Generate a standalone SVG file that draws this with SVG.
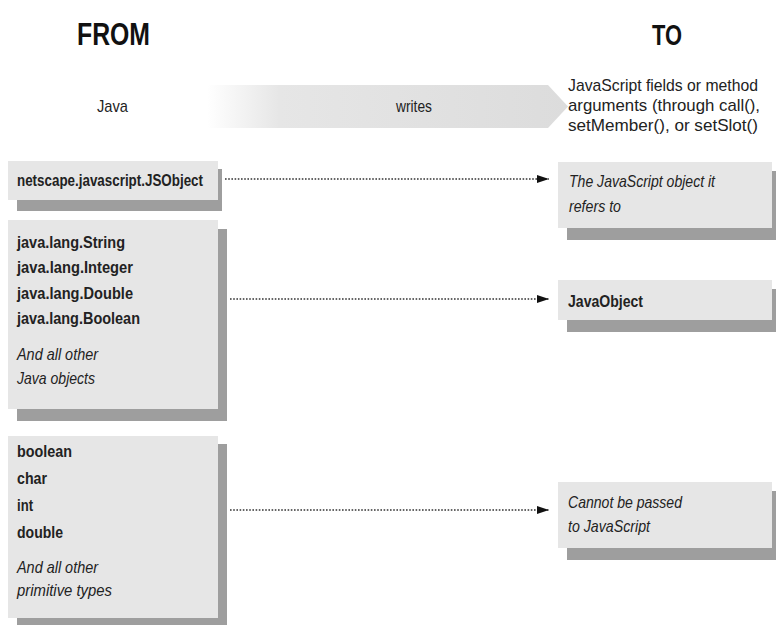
<svg xmlns="http://www.w3.org/2000/svg" width="776" height="625" viewBox="0 0 776 625">
  <defs>
    <style>
      .t{font-family:"Liberation Sans",Arial,sans-serif;font-size:17px;fill:#222}
      .b{font-weight:bold}
      .i{font-style:italic}
      .head{font-family:"Liberation Sans",Arial,sans-serif;font-weight:bold;fill:#111}
      .box{fill:#e6e6e6}
      .shadow{fill:#9e9e9e}
      .conn{stroke:#333;stroke-width:1.3;stroke-dasharray:1.6 1.6;fill:none}
    </style>
    <linearGradient id="flow" x1="207" y1="0" x2="568" y2="0" gradientUnits="userSpaceOnUse">
      <stop offset="0" stop-color="#ffffff"/>
      <stop offset="0.2" stop-color="#e6e6e6"/>
      <stop offset="1" stop-color="#dcdcdc"/>
    </linearGradient>
    <marker id="tip" viewBox="0 0 12 8" refX="12" refY="4" markerWidth="12" markerHeight="8" markerUnits="userSpaceOnUse" orient="auto">
      <path d="M0,0 L12,4 L0,8 Z" fill="#111"/>
    </marker>
  </defs>

  <rect width="776" height="625" fill="#ffffff"/>

  <!-- column headings -->
  <g id="headings">
    <text class="head" x="77" y="45" font-size="31" textLength="73" lengthAdjust="spacingAndGlyphs">FROM</text>
    <text class="head" x="652" y="45" font-size="29" textLength="30" lengthAdjust="spacingAndGlyphs">TO</text>
  </g>

  <!-- direction band: Java writes JavaScript -->
  <g id="direction">
    <polygon points="207,85 548,85 568,106.5 548,128 207,128" fill="url(#flow)"/>
    <text class="t" x="97" y="112" font-size="16" textLength="31" lengthAdjust="spacingAndGlyphs">Java</text>
    <text class="t" x="396" y="112" font-size="16" textLength="36" lengthAdjust="spacingAndGlyphs">writes</text>
  </g>

  <g id="target-caption">
    <text class="t" x="568" y="91" font-size="16" textLength="190" lengthAdjust="spacingAndGlyphs">JavaScript fields or method</text>
    <text class="t" x="568" y="111" font-size="16" textLength="192" lengthAdjust="spacingAndGlyphs">arguments (through call(),</text>
    <text class="t" x="568" y="131" font-size="16" textLength="190" lengthAdjust="spacingAndGlyphs">setMember(), or setSlot()</text>
  </g>

  <!-- source types -->
  <g id="src-jsobject">
    <rect class="shadow" x="17" y="169" width="205" height="42"/>
    <rect class="box" x="8" y="161" width="210" height="39"/>
    <text class="t b" x="17" y="186" textLength="186" lengthAdjust="spacingAndGlyphs">netscape.javascript.JSObject</text>
  </g>

  <g id="src-objects">
    <rect class="shadow" x="17" y="229" width="210" height="192"/>
    <rect class="box" x="8" y="220" width="210" height="189"/>
    <text class="t b" x="17" y="248" textLength="108" lengthAdjust="spacingAndGlyphs">java.lang.String</text>
    <text class="t b" x="17" y="273" textLength="116" lengthAdjust="spacingAndGlyphs">java.lang.Integer</text>
    <text class="t b" x="17" y="299" textLength="116" lengthAdjust="spacingAndGlyphs">java.lang.Double</text>
    <text class="t b" x="17" y="324" textLength="123" lengthAdjust="spacingAndGlyphs">java.lang.Boolean</text>
    <text class="t i" x="17" y="360" textLength="81" lengthAdjust="spacingAndGlyphs">And all other</text>
    <text class="t i" x="17" y="384" textLength="78" lengthAdjust="spacingAndGlyphs">Java objects</text>
  </g>

  <g id="src-primitives">
    <rect class="shadow" x="17" y="444" width="210" height="190"/>
    <rect class="box" x="8" y="436" width="210" height="182"/>
    <text class="t b" x="17" y="457" textLength="55" lengthAdjust="spacingAndGlyphs">boolean</text>
    <text class="t b" x="17" y="484" textLength="30" lengthAdjust="spacingAndGlyphs">char</text>
    <text class="t b" x="17" y="511" textLength="16" lengthAdjust="spacingAndGlyphs">int</text>
    <text class="t b" x="17" y="538" textLength="46" lengthAdjust="spacingAndGlyphs">double</text>
    <text class="t i" x="17" y="573" textLength="81" lengthAdjust="spacingAndGlyphs">And all other</text>
    <text class="t i" x="17" y="596" textLength="95" lengthAdjust="spacingAndGlyphs">primitive types</text>
  </g>

  <!-- JavaScript results -->
  <g id="dst-object">
    <rect class="shadow" x="567" y="171" width="210" height="69"/>
    <rect class="box" x="558" y="162" width="214" height="66"/>
    <text class="t i" x="569" y="187" textLength="146" lengthAdjust="spacingAndGlyphs">The JavaScript object it</text>
    <text class="t i" x="569" y="212" textLength="52" lengthAdjust="spacingAndGlyphs">refers to</text>
  </g>

  <g id="dst-javaobject">
    <rect class="shadow" x="567" y="289" width="210" height="43"/>
    <rect class="box" x="558" y="280" width="214" height="40"/>
    <text class="t b" x="568" y="307" textLength="75" lengthAdjust="spacingAndGlyphs">JavaObject</text>
  </g>

  <g id="dst-none">
    <rect class="shadow" x="567" y="491" width="210" height="69"/>
    <rect class="box" x="558" y="482" width="214" height="66"/>
    <text class="t i" x="568" y="508" textLength="114" lengthAdjust="spacingAndGlyphs">Cannot be passed</text>
    <text class="t i" x="568" y="532" textLength="82" lengthAdjust="spacingAndGlyphs">to JavaScript</text>
  </g>

  <!-- conversions -->
  <g id="connectors">
    <line class="conn" x1="225" y1="179" x2="549" y2="179" marker-end="url(#tip)"/>
    <line class="conn" x1="230" y1="299" x2="549" y2="299" marker-end="url(#tip)"/>
    <line class="conn" x1="230" y1="510" x2="549" y2="510" marker-end="url(#tip)"/>
  </g>
</svg>
